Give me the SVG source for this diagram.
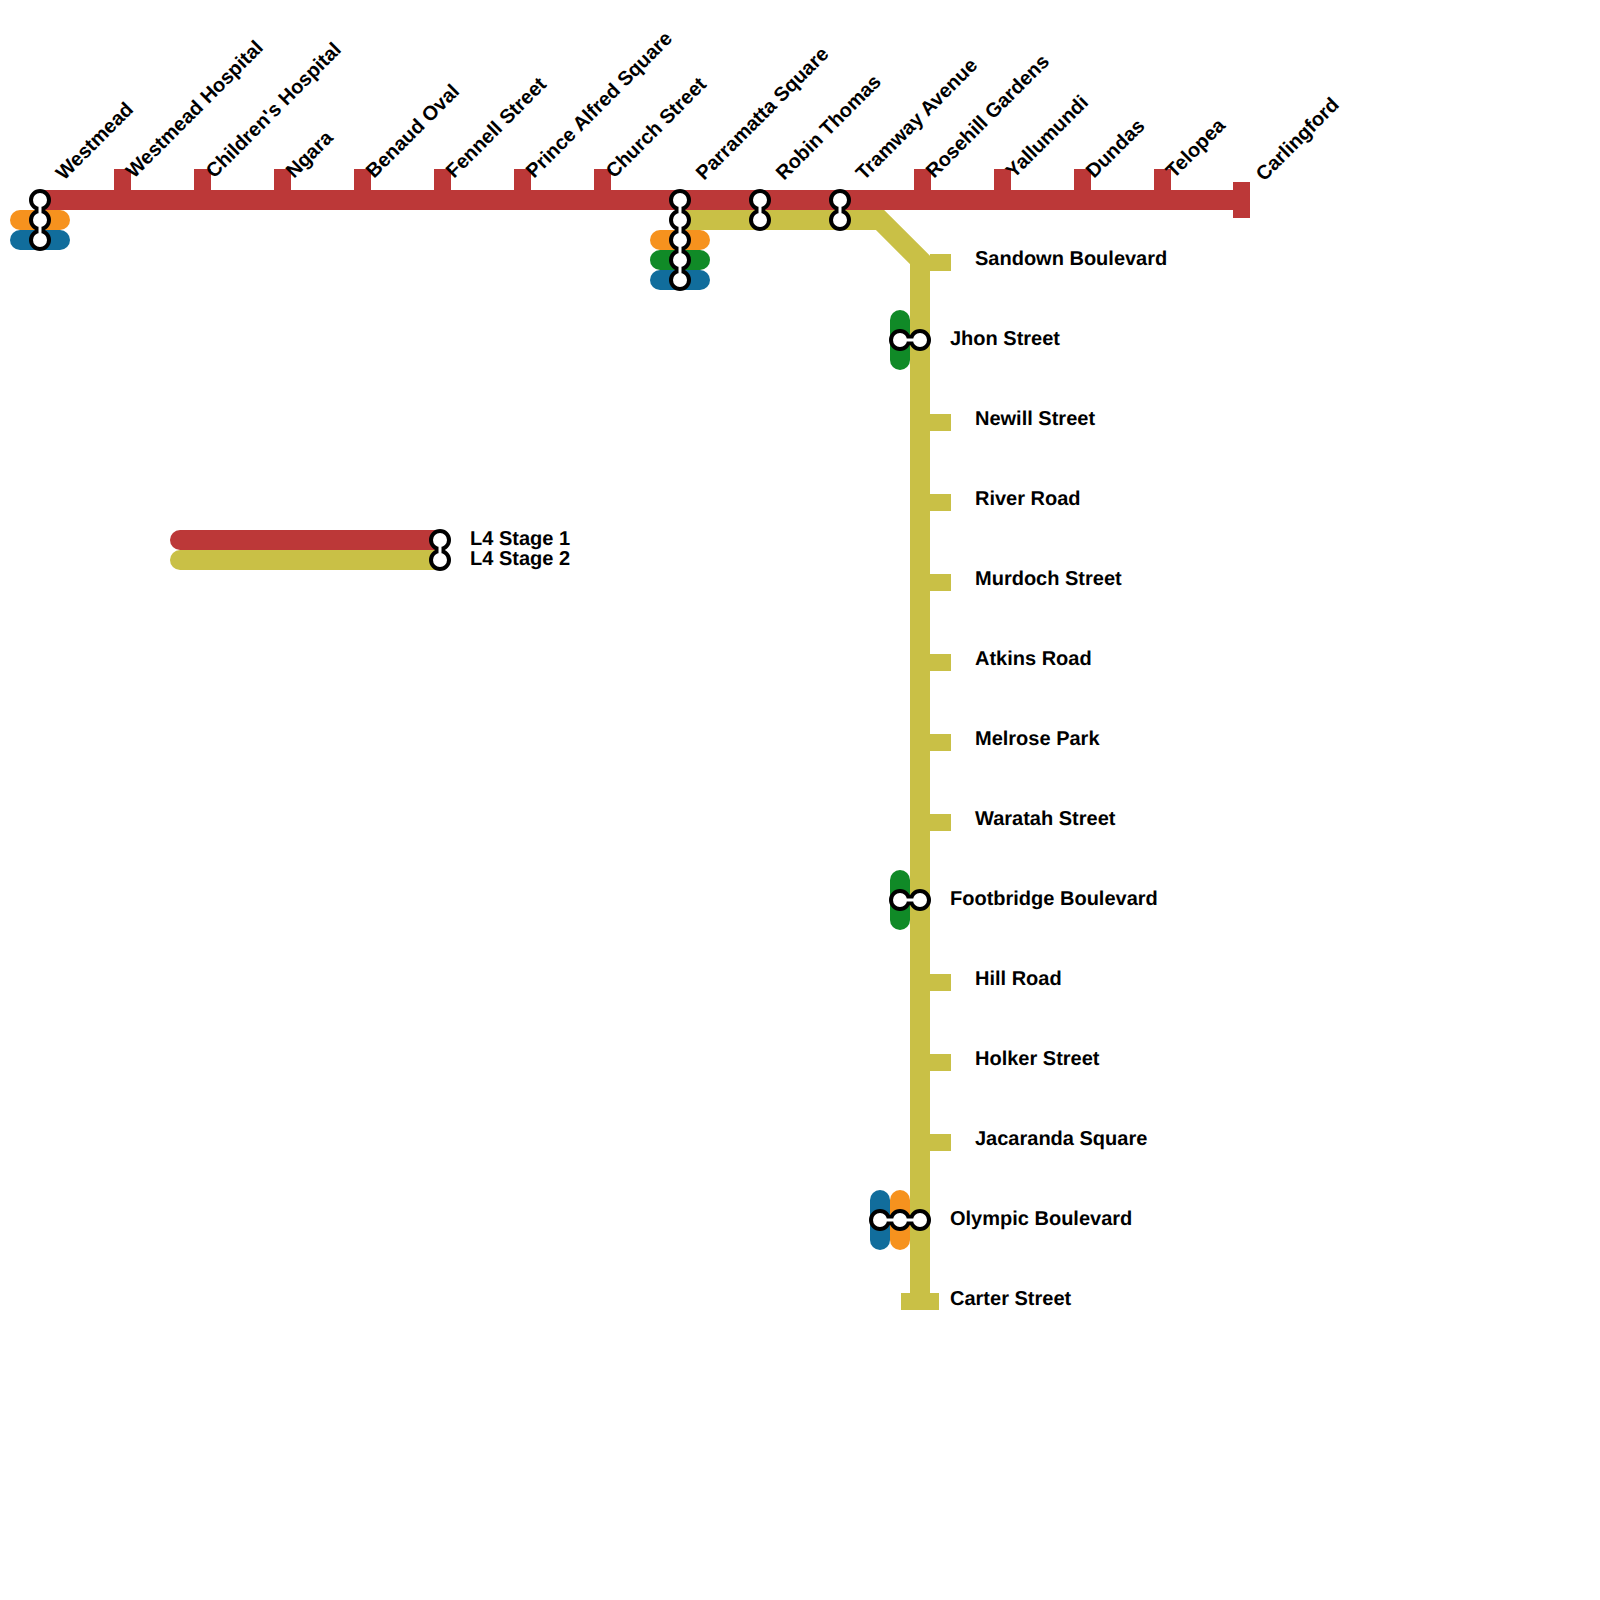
<svg xmlns="http://www.w3.org/2000/svg" width="1600" height="1600" viewBox="0 0 1600 1600">
<style>
.ln{fill:none;stroke-width:20;stroke-linejoin:miter}
.pill{fill:none;stroke-width:20;stroke-linecap:round}
.red{stroke:#BC3838}.yel{stroke:#C9C046}.org{stroke:#F6921E}.grn{stroke:#108A27}.blu{stroke:#116D9C}
.rf{fill:#BC3838}.yf{fill:#C9C046}
.o{stroke:#000;stroke-width:10;fill:none}
.w{stroke:#fff;stroke-width:3;fill:none}
.c{fill:#fff;stroke:#000;stroke-width:4}
text{font-family:"Liberation Sans",Arial,sans-serif;font-size:20px;font-weight:700;fill:#000;text-rendering:geometricPrecision}
</style>
<g id="connectors">
<path class="ln yel" d="M680 220H880L920 260V1310"/>
<path class="ln red" d="M40 200H1240"/>
<path class="pill org" d="M20 220H60"/>
<path class="pill blu" d="M20 240H60"/>
<path class="pill org" d="M660 240H700"/>
<path class="pill grn" d="M660 260H700"/>
<path class="pill blu" d="M660 280H700"/>
<path class="pill grn" d="M900 320V360"/>
<path class="pill grn" d="M900 880V920"/>
<path class="pill blu" d="M880 1200V1240"/>
<path class="pill org" d="M900 1200V1240"/>
<path class="pill red" d="M180 540H440"/>
<path class="pill yel" d="M180 560H440"/>
</g>
<g id="westmead"><path class="o" d="M40 200V240"/><circle class="c" cx="40" cy="200" r="9"/><circle class="c" cx="40" cy="220" r="9"/><circle class="c" cx="40" cy="240" r="9"/><path class="w" d="M40 200V240"/><text transform="translate(64 181) rotate(-45)">Westmead</text></g>
<g id="westmead-hospital"><rect class="rf" x="114" y="169" width="17" height="21"/><text transform="translate(134 179) rotate(-45)">Westmead Hospital</text></g>
<g id="childrens-hospital"><rect class="rf" x="194" y="169" width="17" height="21"/><text transform="translate(214 179) rotate(-45)">Children's Hospital</text></g>
<g id="ngara"><rect class="rf" x="274" y="169" width="17" height="21"/><text transform="translate(294 179) rotate(-45)">Ngara</text></g>
<g id="benaud-oval"><rect class="rf" x="354" y="169" width="17" height="21"/><text transform="translate(374 179) rotate(-45)">Benaud Oval</text></g>
<g id="fennell-street"><rect class="rf" x="434" y="169" width="17" height="21"/><text transform="translate(454 179) rotate(-45)">Fennell Street</text></g>
<g id="prince-alfred-square"><rect class="rf" x="514" y="169" width="17" height="21"/><text transform="translate(534 179) rotate(-45)">Prince Alfred Square</text></g>
<g id="church-street"><rect class="rf" x="594" y="169" width="17" height="21"/><text transform="translate(614 179) rotate(-45)">Church Street</text></g>
<g id="parramatta-square"><path class="o" d="M680 200V280"/><circle class="c" cx="680" cy="200" r="9"/><circle class="c" cx="680" cy="220" r="9"/><circle class="c" cx="680" cy="240" r="9"/><circle class="c" cx="680" cy="260" r="9"/><circle class="c" cx="680" cy="280" r="9"/><path class="w" d="M680 200V280"/><text transform="translate(704 181) rotate(-45)">Parramatta Square</text></g>
<g id="robin-thomas"><path class="o" d="M760 200V220"/><circle class="c" cx="760" cy="200" r="9"/><circle class="c" cx="760" cy="220" r="9"/><path class="w" d="M760 200V220"/><text transform="translate(784 181) rotate(-45)">Robin Thomas</text></g>
<g id="tramway-avenue"><path class="o" d="M840 200V220"/><circle class="c" cx="840" cy="200" r="9"/><circle class="c" cx="840" cy="220" r="9"/><path class="w" d="M840 200V220"/><text transform="translate(864 181) rotate(-45)">Tramway Avenue</text></g>
<g id="rosehill-gardens"><rect class="rf" x="914" y="169" width="17" height="21"/><text transform="translate(934 179) rotate(-45)">Rosehill Gardens</text></g>
<g id="yallumundi"><rect class="rf" x="994" y="169" width="17" height="21"/><text transform="translate(1014 179) rotate(-45)">Yallumundi</text></g>
<g id="dundas"><rect class="rf" x="1074" y="169" width="17" height="21"/><text transform="translate(1094 179) rotate(-45)">Dundas</text></g>
<g id="telopea"><rect class="rf" x="1154" y="169" width="17" height="21"/><text transform="translate(1174 179) rotate(-45)">Telopea</text></g>
<g id="carlingford"><rect class="rf" x="1233" y="182" width="17" height="36"/><text transform="translate(1264 182) rotate(-45)">Carlingford</text></g>
<g id="sandown-boulevard"><rect class="yf" x="930" y="254" width="21" height="17"/><text x="975" y="265">Sandown Boulevard</text></g>
<g id="jhon-street"><path class="o" d="M900 340H920"/><circle class="c" cx="900" cy="340" r="9"/><circle class="c" cx="920" cy="340" r="9"/><path class="w" d="M900 340H920"/><text x="950" y="345">Jhon Street</text></g>
<g id="newill-street"><rect class="yf" x="930" y="414" width="21" height="17"/><text x="975" y="425">Newill Street</text></g>
<g id="river-road"><rect class="yf" x="930" y="494" width="21" height="17"/><text x="975" y="505">River Road</text></g>
<g id="murdoch-street"><rect class="yf" x="930" y="574" width="21" height="17"/><text x="975" y="585">Murdoch Street</text></g>
<g id="atkins-road"><rect class="yf" x="930" y="654" width="21" height="17"/><text x="975" y="665">Atkins Road</text></g>
<g id="melrose-park"><rect class="yf" x="930" y="734" width="21" height="17"/><text x="975" y="745">Melrose Park</text></g>
<g id="waratah-street"><rect class="yf" x="930" y="814" width="21" height="17"/><text x="975" y="825">Waratah Street</text></g>
<g id="footbridge-boulevard"><path class="o" d="M900 900H920"/><circle class="c" cx="900" cy="900" r="9"/><circle class="c" cx="920" cy="900" r="9"/><path class="w" d="M900 900H920"/><text x="950" y="905">Footbridge Boulevard</text></g>
<g id="hill-road"><rect class="yf" x="930" y="974" width="21" height="17"/><text x="975" y="985">Hill Road</text></g>
<g id="holker-street"><rect class="yf" x="930" y="1054" width="21" height="17"/><text x="975" y="1065">Holker Street</text></g>
<g id="jacaranda-square"><rect class="yf" x="930" y="1134" width="21" height="17"/><text x="975" y="1145">Jacaranda Square</text></g>
<g id="olympic-boulevard"><path class="o" d="M880 1220H920"/><circle class="c" cx="880" cy="1220" r="9"/><circle class="c" cx="900" cy="1220" r="9"/><circle class="c" cx="920" cy="1220" r="9"/><path class="w" d="M880 1220H920"/><text x="950" y="1225">Olympic Boulevard</text></g>
<g id="carter-street"><rect class="yf" x="901" y="1293" width="38" height="17"/><text x="950" y="1305">Carter Street</text></g>
<g id="legend"><path class="o" d="M440 540V560"/><circle class="c" cx="440" cy="540" r="9"/><circle class="c" cx="440" cy="560" r="9"/><path class="w" d="M440 540V560"/><text x="470" y="545">L4 Stage 1</text><text x="470" y="565">L4 Stage 2</text></g>
</svg>
